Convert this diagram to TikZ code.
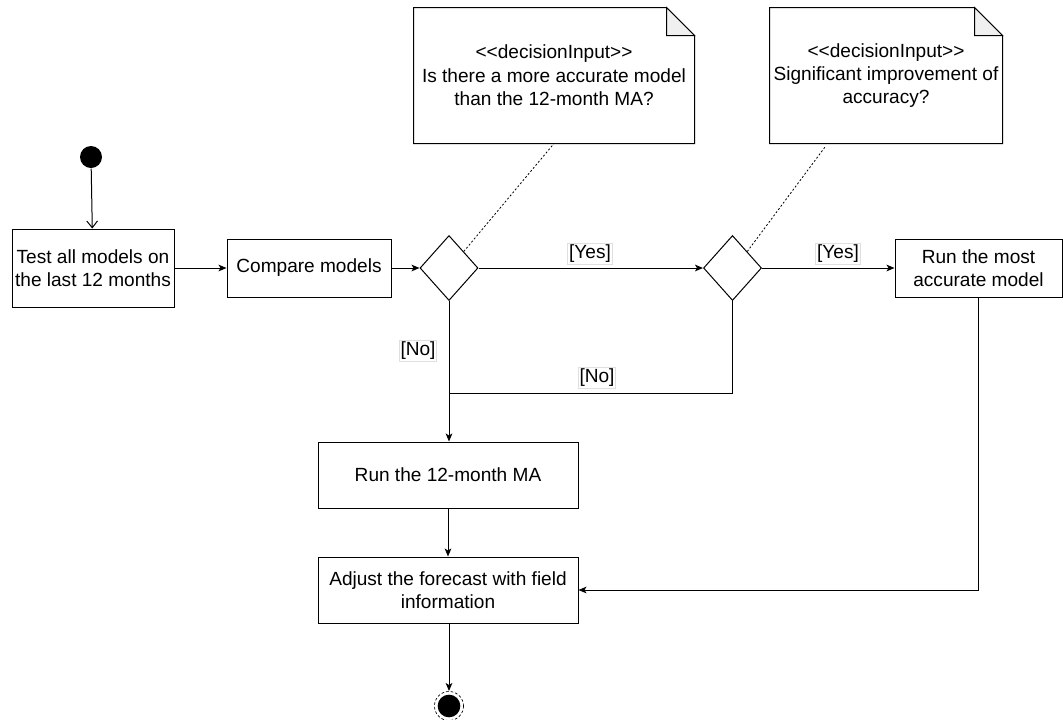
\documentclass[tikz,border=0pt]{standalone}
\usepackage{fontspec}
\setmainfont{Liberation Sans}
\usetikzlibrary{shapes.geometric,arrows.meta,calc}
\newcommand\umlfont{\fontsize{14.3}{16.8}\selectfont}
\newcommand\notefont{\fontsize{14.3}{17.5}\selectfont}
\tikzset{every picture/.style={line width=0.75pt}}
\tikzset{
  actbox/.style 2 args={draw, rectangle, align=center, inner sep=2pt, font=\umlfont,
    minimum width=#1*0.75pt, minimum height=#2*0.75pt},
  notebox/.style 2 args={rectangle, align=center, inner sep=2pt, font=\notefont,
    minimum width=#1*0.75pt, minimum height=#2*0.75pt},
  decision/.style={draw, diamond, inner sep=0pt, minimum width=43.5pt, minimum height=48.75pt},
  lbl/.style={draw=gray!25, fill=white, inner sep=1pt, font=\umlfont},
  flow/.style={-{Stealth[length=6pt,width=5pt,inset=1.5pt]}},
  openflow/.style={-{Straight Barb[length=5pt,width=8pt]}},
  anchorline/.style={dash pattern={on 1.5pt off 1.5pt}, line width=0.6pt},
}

\begin{document}
\begin{tikzpicture}[x=0.75pt,y=0.75pt,yscale=-1,xscale=1]
\useasboundingbox (0,0) rectangle (1063,719);

%Shape: Circle (initial node)
\node [circle, fill=black, inner sep=0pt, minimum size=16.5pt] (start) at (91,157) {};

%Shape: Rectangle
\node [actbox={162}{78}] (test) at (93,268) {Test all models on\\the last 12 months};
\node [actbox={164}{58}] (compare) at (309,268) {Compare models};
\node [actbox={167}{58}] (runbest) at (978.5,268) {Run the most\\accurate model};
\node [actbox={260}{66}] (runma) at (448,475) {Run the 12-month MA};
\node [actbox={260}{66}] (adjust) at (448,590) {Adjust the forecast with field\\information};

%Shape: Diamond
\node [decision] (d1) at (449,268) {};
\node [decision] (d2) at (732.5,268) {};

%Shape: Note
\node [notebox={280}{135}] (note1) at (554,75.5) {{<}{<}decisionInput{>}{>}\\Is there a more accurate model\\than the 12-month MA?};
\node [notebox={232}{135}] (note2) at (886,75.5) {{<}{<}decisionInput{>}{>}\\Significant improvement of\\accuracy?};
\foreach \n in {note1,note2}{
  \draw (\n.south west) -- (\n.south east) -- ($(\n.north east)+(0,28)$)
    -- ($(\n.north east)+(-28,0)$) -- (\n.north west) -- cycle;
  \draw [fill=gray!12] ($(\n.north east)+(-28,0)$) -- ($(\n.north east)+(-28,28)$)
    -- ($(\n.north east)+(0,28)$) -- cycle;
}

%Shape: Circle (final node)
\node [circle, fill=black, inner sep=0pt, minimum size=17pt] (stop) at (449,706) {};
\draw [dashed, dash pattern={on 2pt off 1.5pt}, line width=0.5pt] (stop.center) circle (10.9pt);
\coordinate (stoptop) at (449,691);

%Straight Lines
\draw [openflow] (start) -- (test);
\draw [flow] (test) -- (compare);
\draw [flow] (compare) -- (d1.west);
\draw [flow] (d1.east) -- (d2.west);
\draw [flow] (d2.east) -- (runbest.west);
\draw [flow] (d1.south) -- (d1.south |- runma.north);
\coordinate (join) at (449,393);
\draw (d2.south) |- (join);
\draw [flow] (runma) -- (adjust);
\draw [flow] (runbest.south) |- (adjust.east);
\draw [flow] (adjust.south -| stop) -- (stoptop);

%Dotted anchor lines
\draw [anchorline] (d1.north east) -- (note1.south);
\coordinate (note2foot) at (825,147);
\draw [anchorline] (d2.north east) -- (note2foot);

% Text Node
\node [lbl] (yes1) at (590,254) {[Yes]};
\node [lbl] (yes2) at (838,254) {[Yes]};
\node [lbl] (no1) at (418,351) {[No]};
\node [lbl] (no2) at (597,378) {[No]};

\end{tikzpicture}
\end{document}
